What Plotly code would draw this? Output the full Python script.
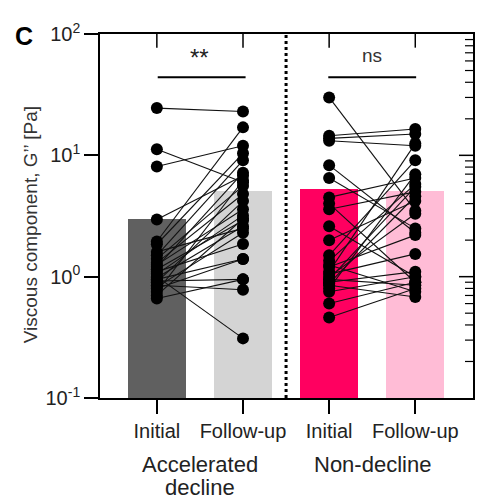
import math
import plotly.graph_objects as go

# ---- data ----
categories = ["Initial", "Follow-up", "Initial", "Follow-up"]
group_line1 = ["Accelerated", "Non-decline"]
group_line2 = ["decline", ""]
bar_values = [3.0, 5.1, 5.3, 5.1]
bar_colors = ["#606060", "#d4d4d4", "#ff0060", "#ffbcd6"]

acc_initial = [24.5, 11.2, 8.1, 2.96, 1.95, 1.85, 1.5, 1.4, 1.3, 1.25, 1.2, 1.15, 1.1,
               1.05, 1.0, 0.98, 0.95, 0.92, 0.9, 0.85, 0.82, 0.8, 0.75, 0.7, 0.66, 1.6]
acc_follow = [23.0, 6.0, 12.0, 6.8, 17.0, 10.4, 9.1, 5.6, 4.8, 3.6, 7.2, 2.9, 1.86,
              3.2, 0.31, 2.6, 1.4, 0.95, 4.2, 0.78, 2.3, 1.4, 6.2, 3.0, 0.95, 2.5]

non_initial = [30.0, 14.5, 13.2, 13.8, 8.3, 6.5, 4.5, 4.0, 3.6, 2.6, 2.0, 1.5, 1.35, 1.25,
               1.1, 1.05, 1.0, 0.95, 0.9, 0.88, 0.85, 0.8, 0.75, 0.6, 0.46, 1.2, 0.95]
non_follow = [3.5, 16.5, 12.0, 15.0, 2.3, 2.5, 6.5, 0.9, 5.0, 1.0, 4.2, 9.1, 5.8, 0.75,
              12.5, 1.54, 3.3, 0.85, 1.1, 4.6, 0.68, 7.0, 1.0, 0.9, 0.8, 2.2, 5.5]

sig_labels = ["**", "ns"]
y_labelalias = {"0.1": "10<sup>-1</sup>", "1": "10<sup>0</sup>", "10": "10<sup>1</sup>",
                "100": "10<sup>2</sup>"}
y_major = [0.1, 1, 10, 100]
y_minor = [m * d for d in [0.1, 1, 10] for m in range(2, 10)]
x_ticks = [0, 1, 2, 3]

FONT = "Liberation Sans, Arial, sans-serif"
TXT = "#222"

W, H = 480, 494
ML, MR, MT, MB = 92, 15, 17, 104
PW, PH = W - ML - MR, H - MT - MB
OFF = 8
XR = [-0.66, 3.67]
YLOG = [-1, 2]
DX = (XR[1] - XR[0]) / PW          # data units per pixel along x
DLY = (YLOG[1] - YLOG[0]) / PH      # decades per pixel along y


def px_x(x):
    return (x - OFF - ML) / PW


def px_y(y):
    return (H - MB - (y - OFF)) / PH


fig = go.Figure()

fig.add_trace(go.Bar(x=x_ticks, y=bar_values, marker=dict(color=bar_colors, line=dict(width=0)),
                     width=0.674, hoverinfo="skip"))

for xs, a, b in [((0, 1), acc_initial, acc_follow), ((2, 3), non_initial, non_follow)]:
    lx, ly = [], []
    for v0, v1 in zip(a, b):
        lx += [xs[0], xs[1], None]
        ly += [v0, v1, None]
    fig.add_trace(go.Scatter(x=lx, y=ly, mode="lines", line=dict(color="#111", width=1.1),
                             hoverinfo="skip"))
    fig.add_trace(go.Scatter(x=[xs[0]] * len(a) + [xs[1]] * len(b), y=a + b, mode="markers",
                             marker=dict(color="black", size=12)))

for xs in [(0.01, 1.03), (1.99, 3.01)]:
    fig.add_trace(go.Scatter(x=list(xs), y=[44, 44], mode="lines", line=dict(color="black", width=1.8),
                             hoverinfo="skip"))

# frame decoration derived from the tick values: inward ticks on top and right, minor ticks
top_hi = 10 ** YLOG[1]
top_lo = 10 ** (YLOG[1] - 14 * DLY)
tx, ty = [], []
for xv in x_ticks:
    tx += [xv, xv, None]
    ty += [top_hi, top_lo, None]
for v in y_major[1:-1]:
    tx += [XR[1], XR[1] - 14 * DX, None]
    ty += [v, v, None]
fig.add_trace(go.Scatter(x=tx, y=ty, mode="lines", line=dict(color="black", width=1.5),
                         cliponaxis=False, hoverinfo="skip"))
mx, my = [], []
for v in y_minor:
    mx += [XR[0], XR[0] - 8 * DX, None, XR[1], XR[1] - 8 * DX, None]
    my += [v, v, None, v, v, None]
fig.add_trace(go.Scatter(x=mx, y=my, mode="lines", line=dict(color="black", width=1.2),
                         cliponaxis=False, hoverinfo="skip"))

NOGRID = "rgba(0,0,0,0)"

fig.update_layout(
    width=W, height=H,
    margin=dict(l=ML, r=MR, t=MT, b=MB),
    plot_bgcolor="rgba(0,0,0,0)", paper_bgcolor="white",
    font=dict(family=FONT, color=TXT),
    showlegend=False,
    bargap=0,
    xaxis=dict(range=XR, tickmode="array", tickvals=x_ticks, ticktext=categories,
               ticks="outside", ticklen=14, tickwidth=1.5, tickcolor="black", gridcolor=NOGRID,
               zeroline=False, showline=True, linecolor="black", linewidth=1.6, mirror=True,
               tickfont=dict(size=20, color=TXT, family=FONT)),
    yaxis=dict(type="log", range=YLOG, dtick=1, labelalias=y_labelalias,
               ticks="outside", ticklen=14, tickwidth=1.5, tickcolor="black", gridcolor=NOGRID,
               showline=True, linecolor="black", linewidth=1.6, mirror=True,
               tickfont=dict(size=20, color=TXT, family=FONT)),
    shapes=[dict(type="line", xref="x", yref="paper", x0=1.5, x1=1.5, y0=0, y1=1,
                 line=dict(color="black", width=3, dash="dot"))],
    annotations=[
        dict(text=sig_labels[0], x=0.5, y=px_y(49), xref="x", yref="paper", showarrow=False,
             yanchor="middle", font=dict(size=24, color=TXT, family=FONT)),
        dict(text=sig_labels[1], x=2.5, y=px_y(47), xref="x", yref="paper", showarrow=False,
             yanchor="middle", font=dict(size=19, color="#333", family=FONT)),
        dict(text=group_line1[0], x=0.5, y=px_y(466), xref="x", yref="paper", yanchor="middle",
             showarrow=False, font=dict(size=22, color=TXT, family=FONT)),
        dict(text=group_line2[0], x=0.5, y=px_y(490), xref="x", yref="paper", yanchor="middle",
             showarrow=False, font=dict(size=22, color=TXT, family=FONT)),
        dict(text=group_line1[1], x=2.5, y=px_y(466), xref="x", yref="paper", yanchor="middle",
             showarrow=False, font=dict(size=22, color=TXT, family=FONT)),
        dict(text="<b>C</b>", x=px_x(24), y=px_y(27), xref="paper", yref="paper", showarrow=False,
             xanchor="center", yanchor="middle", font=dict(size=25, color="black", family=FONT)),
        dict(text="Viscous component, G’’ [Pa]", x=px_x(30), y=px_y(221), xref="paper", yref="paper",
             showarrow=False, textangle=-90, xanchor="center", yanchor="middle",
             font=dict(size=19, color="#333", family=FONT)),
    ],
)

fig.write_html("out.html")
